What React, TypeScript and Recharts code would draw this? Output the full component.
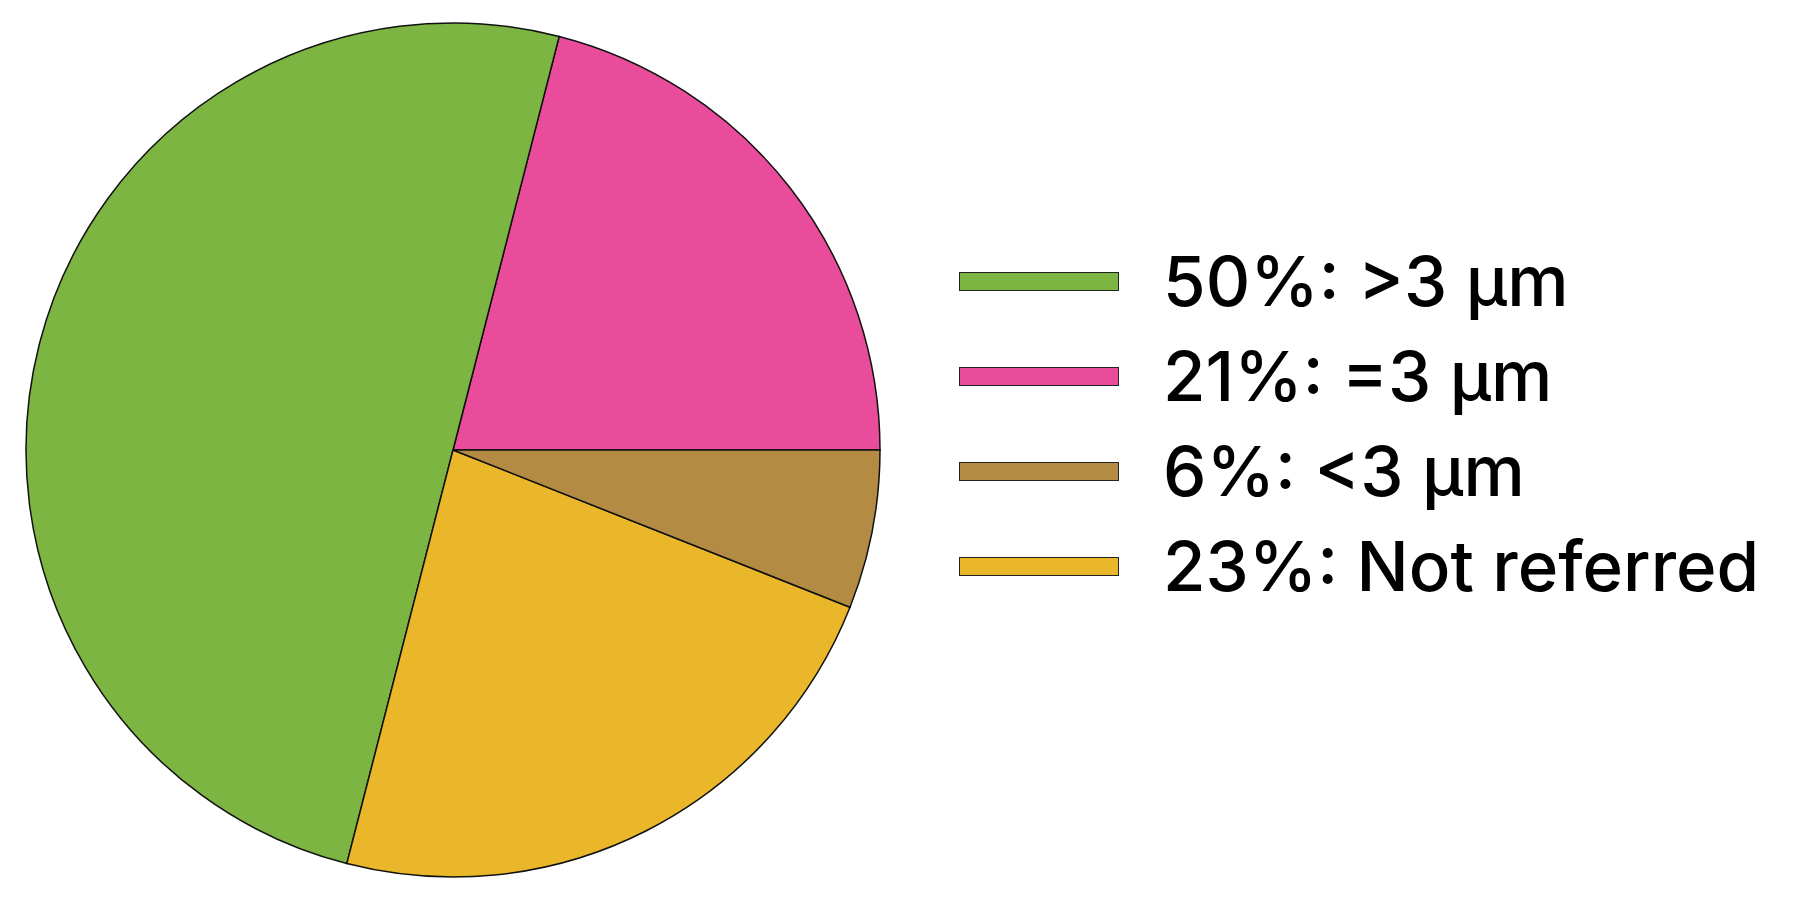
import { PieChart, Pie, Cell, Legend } from 'recharts';

const sliceNames = ['=3 μm', '>3 μm', 'Not referred', '<3 μm'];
const sliceValues = [21, 50, 23, 6];
const sliceColors = ['#ea4c9c', '#7db542', '#ebb72a', '#b38b42'];

// legend is listed in a different order than the slices
const legendOrder = [1, 0, 3, 2];

const data = sliceNames.map((name, i) => ({ name, value: sliceValues[i] }));

function LegendBox() {
  return (
    <div style={{ fontFamily: 'Inter, "Open Sans", sans-serif', color: '#000' }}>
      {legendOrder.map((i) => (
        <div key={i} style={{ display: 'flex', alignItems: 'center', height: 95 }}>
          <div
            style={{
              width: 160,
              height: 19,
              background: sliceColors[i],
              border: '1.5px solid #222',
              boxSizing: 'border-box',
              marginRight: 44,
            }}
          />
          <span style={{ fontSize: 69, fontWeight: 500, lineHeight: '95px', whiteSpace: 'nowrap' }}>
            {`${sliceValues[i]}%: ${sliceNames[i]}`}
          </span>
        </div>
      ))}
    </div>
  );
}

export default function App() {
  return (
    <div style={{ position: 'absolute', left: 0, top: 0, width: 1798, height: 899, background: '#fff' }}>
      <PieChart width={1798} height={899} margin={{ top: 0, right: 0, bottom: 0, left: 0 }}>
        <Pie
          data={data}
          dataKey="value"
          nameKey="name"
          cx={453}
          cy={450}
          outerRadius={427}
          startAngle={0}
          endAngle={360}
          stroke="#111"
          strokeWidth={1.5}
          isAnimationActive={false}
        >
          {data.map((d, i) => (
            <Cell key={d.name} fill={sliceColors[i]} />
          ))}
        </Pie>
        <Legend
          content={() => <LegendBox />}
          wrapperStyle={{ position: 'absolute', left: 959, top: 234, width: 830 }}
        />
      </PieChart>
    </div>
  );
}
